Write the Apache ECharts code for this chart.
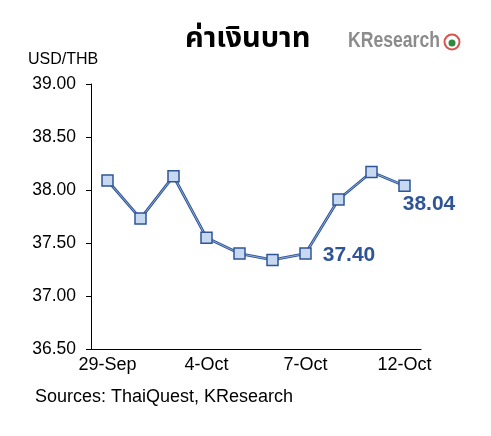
<!DOCTYPE html>
<html>
<head>
<meta charset="utf-8">
<script src="https://cdn.jsdelivr.net/npm/echarts@6/dist/echarts.min.js"></script>
<style>
  html, body { margin: 0; padding: 0; background: #fff; }
  #chart { width: 491px; height: 436px; }
</style>
</head>
<body>
<div id="chart"></div>
<script>
// Data
const dates = ['29-Sep', '30-Sep', '3-Oct', '4-Oct', '5-Oct', '6-Oct', '7-Oct', '10-Oct', '11-Oct', '12-Oct'];
const usdThb = [38.09, 37.73, 38.13, 37.55, 37.40, 37.34, 37.40, 37.91, 38.17, 38.04];
const labelled = [6, 9]; // points with a value label

const DARK = '#2f5597';
const FONT = '"Liberation Sans", Arial, sans-serif';

const chart = echarts.init(document.getElementById('chart'));

const points = usdThb.map((v, i) => {
    if (!labelled.includes(i)) return v;
    return {
        value: v,
        label: {
            show: true,
            formatter: p => p.value.toFixed(2),
            position: 'right',
            offset: i === 9 ? [-13, 18] : [6, 2],
            color: DARK,
            fontWeight: 'bold',
            fontSize: 21,
            fontFamily: FONT
        }
    };
});

chart.setOption({
    animation: false,
    grid: { left: 91, top: 84, width: 330, height: 265 },
    title: {
        text: 'ค่าเงินบาท',
        left: 180,
        top: 22,
        textStyle: { fontSize: 29, fontWeight: 'bold', color: '#000', fontFamily: '"Noto Sans Thai", "Noto Sans", sans-serif' }
    },
    graphic: [
        {
            type: 'text', left: 28, top: 52,
            style: { text: 'USD/THB', fontSize: 16, fill: '#000', fontFamily: FONT }
        },
        {
            type: 'text', left: 35, top: 388,
            style: { text: 'Sources: ThaiQuest, KResearch', fontSize: 18, fill: '#000', fontFamily: FONT }
        },
        {
            type: 'text', x: 348, y: 30, scaleX: 0.8,
            style: { text: 'KResearch', fontSize: 22, fontWeight: 'bold', fill: '#8c8c8c', fontFamily: FONT }
        },
        {
            type: 'circle', shape: { cx: 452, cy: 42, r: 7.5 },
            style: { fill: '#fff', stroke: '#d9534f', lineWidth: 2 }
        },
        {
            type: 'circle', shape: { cx: 452, cy: 43, r: 3.5 },
            style: { fill: '#2e8b3e' }
        }
    ],
    xAxis: {
        type: 'category',
        data: dates,
        boundaryGap: true,
        axisLine: { lineStyle: { color: '#000', width: 1 } },
        axisTick: { interval: 2, length: 5, lineStyle: { color: '#000' } },
        axisLabel: { interval: 2, color: '#000', fontSize: 18, fontFamily: FONT, margin: 7 }
    },
    yAxis: {
        type: 'value',
        min: 36.5,
        max: 39,
        interval: 0.5,
        splitLine: { show: false },
        axisLine: { show: true, lineStyle: { color: '#000', width: 1 } },
        axisTick: { show: true, length: 5, lineStyle: { color: '#000' } },
        axisLabel: {
            color: '#000', fontSize: 17.5, fontFamily: FONT, margin: 15,
            formatter: v => v.toFixed(2)
        }
    },
    series: [
        {
            // dark outer stroke of the double line
            type: 'line',
            data: usdThb,
            symbol: 'none',
            lineStyle: { color: DARK, width: 2.8 },
            silent: true,
            z: 2
        },
        {
            type: 'line',
            data: points,
            symbol: 'rect',
            symbolSize: 11,
            lineStyle: { color: '#a9c0e4', width: 0.8 },
            itemStyle: { color: '#c6d9f1', borderColor: DARK, borderWidth: 1.5 },
            z: 3
        }
    ]
});
</script>
</body>
</html>
